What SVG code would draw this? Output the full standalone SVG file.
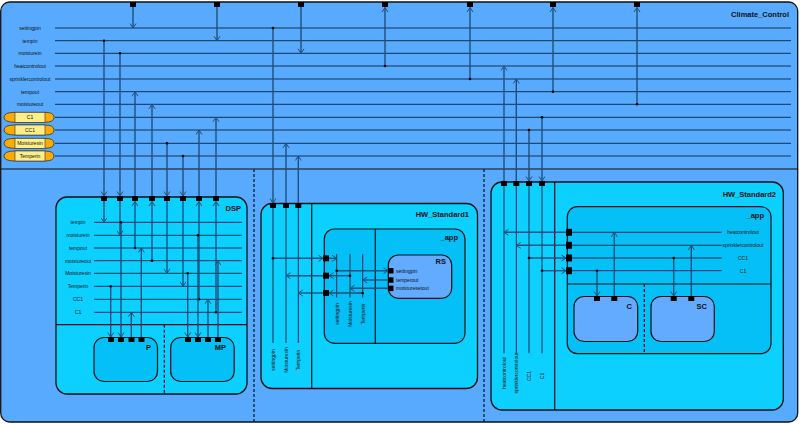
<svg xmlns="http://www.w3.org/2000/svg" width="800" height="424" viewBox="0 0 800 424">
<style>
.t{font-family:"Liberation Sans",Arial,sans-serif;font-size:5px;fill:#111}
.tm{text-anchor:middle}
.ti{font-family:"Liberation Sans",Arial,sans-serif;font-size:7.5px;font-weight:bold;fill:#111;text-anchor:end}
.ln{stroke:#14304f;stroke-width:1;fill:none}
.c{stroke:#1f4f7c;stroke-width:1.4;fill:none;marker-end:url(#a);marker-start:url(#d)}
.cn{stroke:#1f4f7c;stroke-width:1.4;fill:none;marker-end:url(#a)}
.box{fill:#0cd0ff;stroke:#111;stroke-width:1.3}
.sub{fill:#04c0f6;stroke:#111;stroke-width:1.2}
.leaf{fill:#62abff;stroke:#111;stroke-width:1.2}
.p{fill:#000}
.sep{stroke:#111;stroke-width:1.2}
.dash{stroke:#111;stroke-width:1.2;stroke-dasharray:3,2}
.loz{fill:#ffaa00;stroke:#333;stroke-width:0.8}
.lin{fill:#ffee88;stroke:#333;stroke-width:0.6}
</style>
<defs>
<marker id="a" markerWidth="8" markerHeight="8" refX="6" refY="4" orient="auto" markerUnits="userSpaceOnUse"><path d="M1.5,1 L6,4 L1.5,7" fill="none" stroke="#1f4f7c" stroke-width="1"/></marker>
<marker id="d" markerWidth="4" markerHeight="4" refX="2" refY="2" markerUnits="userSpaceOnUse"><circle cx="2" cy="2" r="1.3" fill="#000"/></marker>
<path id="lz" d="M4,5 Q4,0 15,0 H45 Q54,0 54,5 Q54,10 45,10 H15 Q4,10 4,5 Z"/>
</defs>

<g id="Climate_Control">
<rect x="0.7" y="2" width="797" height="420" rx="9" fill="#57aafd" stroke="#111" stroke-width="1.3"/>
<line x1="0.7" y1="169" x2="797.7" y2="169" class="sep"/>
<line x1="254" y1="169" x2="254" y2="422" class="dash"/>
<line x1="484" y1="169" x2="484" y2="422" class="dash"/>
<text x="789" y="17" class="ti">Climate_Control</text>
<g class="ln">
<line x1="55" y1="28" x2="791" y2="28"/>
<line x1="55" y1="40.7" x2="791" y2="40.7"/>
<line x1="55" y1="53.3" x2="791" y2="53.3"/>
<line x1="55" y1="66" x2="791" y2="66"/>
<line x1="55" y1="79" x2="791" y2="79"/>
<line x1="55" y1="91.7" x2="791" y2="91.7"/>
<line x1="55" y1="104.3" x2="791" y2="104.3"/>
<line x1="55" y1="117.3" x2="791" y2="117.3"/>
<line x1="55" y1="130" x2="791" y2="130"/>
<line x1="55" y1="143.3" x2="791" y2="143.3"/>
<line x1="55" y1="156" x2="791" y2="156"/>
</g>
<text x="30" y="29.8" class="t tm">settingpin</text>
<text x="30" y="42.5" class="t tm">tempin</text>
<text x="30" y="55.1" class="t tm">moisturein</text>
<text x="30" y="67.8" class="t tm">heatcontrolout</text>
<text x="30" y="80.8" class="t tm">sprinklercontrolout</text>
<text x="30" y="93.5" class="t tm">tempout</text>
<text x="30" y="106.1" class="t tm">moistureout</text>
<g id="lozenges">
<use href="#lz" y="112.3" class="loz"/><rect x="15" y="112.3" width="30" height="10" class="lin"/><text x="30" y="119.1" class="t tm">C1</text>
<use href="#lz" y="125" class="loz"/><rect x="15" y="125" width="30" height="10" class="lin"/><text x="30" y="131.8" class="t tm">CC1</text>
<use href="#lz" y="138.3" class="loz"/><rect x="15" y="138.3" width="30" height="10" class="lin"/><text x="30" y="145.1" class="t tm">Moisturesin</text>
<use href="#lz" y="151" class="loz"/><rect x="15" y="151" width="30" height="10" class="lin"/><text x="30" y="157.8" class="t tm">Temperin</text>
</g>
<g class="p">
<rect x="130" y="2" width="6" height="5"/><rect x="214" y="2" width="6" height="5"/><rect x="298" y="2" width="6" height="5"/><rect x="382" y="2" width="6" height="5"/><rect x="467" y="2" width="6" height="5"/><rect x="550" y="2" width="6" height="5"/><rect x="634" y="2" width="6" height="5"/>
</g>
</g>

<g id="DSP">
<rect x="56" y="197" width="191" height="197" rx="11" class="box"/>
<line x1="56" y1="324.7" x2="247" y2="324.7" class="sep"/>
<line x1="164.3" y1="324.7" x2="164.3" y2="394" class="dash"/>
<text x="241" y="210.5" class="ti">DSP</text>
<g class="ln">
<line x1="94" y1="222.3" x2="242" y2="222.3"/>
<line x1="94" y1="235.3" x2="242" y2="235.3"/>
<line x1="94" y1="248" x2="242" y2="248"/>
<line x1="94" y1="260.7" x2="242" y2="260.7"/>
<line x1="94" y1="273.3" x2="242" y2="273.3"/>
<line x1="94" y1="286.3" x2="242" y2="286.3"/>
<line x1="94" y1="299.3" x2="242" y2="299.3"/>
<line x1="94" y1="312.3" x2="242" y2="312.3"/>
</g>
<text x="78" y="224.1" class="t tm">tempin</text>
<text x="78" y="237.1" class="t tm">moisturein</text>
<text x="78" y="249.8" class="t tm">tempout</text>
<text x="78" y="262.5" class="t tm">moistureout</text>
<text x="78" y="275.1" class="t tm">Moisturesin</text>
<text x="78" y="288.1" class="t tm">Temperin</text>
<text x="78" y="301.1" class="t tm">CC1</text>
<text x="78" y="314.1" class="t tm">C1</text>
<g class="p">
<rect x="101" y="196" width="6" height="5"/><rect x="117" y="196" width="6" height="5"/><rect x="132" y="196" width="6" height="5"/><rect x="149" y="196" width="6" height="5"/><rect x="164" y="196" width="6" height="5"/><rect x="180" y="196" width="6" height="5"/><rect x="196" y="196" width="6" height="5"/><rect x="213" y="196" width="6" height="5"/>
</g>
<g id="P">
<rect x="94" y="337.5" width="63.5" height="44" rx="10" class="sub"/>
<text x="151" y="349.5" class="ti">P</text>
<g class="p"><rect x="108" y="337" width="6" height="5"/><rect x="118" y="337" width="6" height="5"/><rect x="128.5" y="337" width="6" height="5"/><rect x="138.5" y="337" width="6" height="5"/></g>
</g>
<g id="MP">
<rect x="170.7" y="337.5" width="63.5" height="44" rx="10" class="sub"/>
<text x="226" y="349.5" class="ti">MP</text>
<g class="p"><rect x="185" y="337" width="6" height="5"/><rect x="195" y="337" width="6" height="5"/><rect x="205" y="337" width="6" height="5"/><rect x="215" y="337" width="6" height="5"/></g>
</g>
</g>

<g id="HW_Standard1">
<rect x="261" y="203.5" width="216.5" height="185" rx="11" class="box"/>
<line x1="311.7" y1="203.5" x2="311.7" y2="388.5" class="sep"/>
<text x="469" y="217" class="ti">HW_Standard1</text>
<g class="ln">
<line x1="273" y1="208" x2="273" y2="343"/>
<line x1="286" y1="208" x2="286" y2="343"/>
<line x1="298.3" y1="208" x2="298.3" y2="343"/>
</g>
<text transform="rotate(-90 275 360)" x="275" y="360" class="t tm">settingpin</text>
<text transform="rotate(-90 288 360)" x="288" y="360" class="t tm">Moisturesin</text>
<text transform="rotate(-90 300.3 360)" x="300.3" y="360" class="t tm">Temperin</text>
<g class="p"><rect x="270" y="203" width="6" height="5"/><rect x="283" y="203" width="6" height="5"/><rect x="295.3" y="203" width="6" height="5"/></g>
<g id="HW1_app">
<rect x="324.3" y="229" width="140.7" height="114.3" rx="10" class="sub"/>
<line x1="375.3" y1="229" x2="375.3" y2="343.3" class="sep"/>
<text x="458" y="239.5" class="ti">_app</text>
<g class="ln">
<line x1="336.7" y1="254" x2="336.7" y2="297.5"/>
<line x1="350" y1="254" x2="350" y2="297.5"/>
<line x1="362.7" y1="254" x2="362.7" y2="297.5"/>
</g>
<text transform="rotate(-90 338.5 314)" x="338.5" y="314" class="t tm">settingpin</text>
<text transform="rotate(-90 351.8 314)" x="351.8" y="314" class="t tm">Moisturesin</text>
<text transform="rotate(-90 364.5 314)" x="364.5" y="314" class="t tm">Temperin</text>
<g class="p"><rect x="323" y="255.3" width="6" height="6"/><rect x="323" y="272.7" width="6" height="6"/><rect x="323" y="290" width="6" height="6"/></g>
<g id="RS">
<rect x="388.3" y="255" width="63.4" height="43.3" rx="10" class="leaf"/>
<text x="446" y="263.5" class="ti">RS</text>
<g class="p"><rect x="388" y="268" width="5.5" height="5.5"/><rect x="388" y="277.3" width="5.5" height="5.5"/><rect x="388" y="285.6" width="5.5" height="5.5"/></g>
<text x="396" y="272.5" class="t">settingpin</text>
<text x="396" y="281.8" class="t">temperout</text>
<text x="396" y="290.1" class="t">moisturesetout</text>
</g>
</g>
</g>

<g id="HW_Standard2">
<rect x="491" y="182" width="292.3" height="228" rx="11" class="box"/>
<line x1="554.7" y1="182" x2="554.7" y2="410" class="sep"/>
<text x="776" y="196.5" class="ti">HW_Standard2</text>
<g class="ln">
<line x1="504" y1="186" x2="504" y2="353.3"/>
<line x1="516.3" y1="186" x2="516.3" y2="353.3"/>
<line x1="529" y1="186" x2="529" y2="353.3"/>
<line x1="542" y1="186" x2="542" y2="353.3"/>
</g>
<text transform="rotate(-90 506 373)" x="506" y="373" class="t tm">heatcontrolout</text>
<text transform="rotate(-90 518.3 373)" x="518.3" y="373" class="t tm">sprinklercontrolout</text>
<text transform="rotate(-90 531 376)" x="531" y="376" class="t tm">CC1</text>
<text transform="rotate(-90 544 376)" x="544" y="376" class="t tm">C1</text>
<g class="p"><rect x="501" y="181" width="6" height="5"/><rect x="513.3" y="181" width="6" height="5"/><rect x="526" y="181" width="6" height="5"/><rect x="539" y="181" width="6" height="5"/></g>
<g id="HW2_app">
<rect x="567.3" y="206.7" width="203.7" height="147" rx="10" class="sub"/>
<line x1="567.3" y1="284" x2="771" y2="284" class="sep"/>
<line x1="644.3" y1="284" x2="644.3" y2="353.7" class="dash"/>
<text x="764" y="217.5" class="ti">_app</text>
<g class="ln">
<line x1="570" y1="232.3" x2="721.7" y2="232.3"/>
<line x1="570" y1="245.3" x2="721.7" y2="245.3"/>
<line x1="570" y1="258" x2="721.7" y2="258"/>
<line x1="570" y1="270.7" x2="721.7" y2="270.7"/>
</g>
<text x="743" y="234.1" class="t tm">heatcontrolout</text>
<text x="743" y="247.1" class="t tm">sprinklercontrolout</text>
<text x="743" y="259.8" class="t tm">CC1</text>
<text x="743" y="272.5" class="t tm">C1</text>
<g class="p"><rect x="566" y="228.8" width="6" height="7"/><rect x="566" y="241.8" width="6" height="7"/><rect x="566" y="254.5" width="6" height="7"/><rect x="566" y="267.2" width="6" height="7"/></g>
<g id="C">
<rect x="574" y="296.5" width="63.7" height="45" rx="10" class="leaf"/>
<text x="632" y="309" class="ti">C</text>
<g class="p"><rect x="594" y="296" width="6" height="5"/><rect x="611.3" y="296" width="6" height="5"/></g>
</g>
<g id="SC">
<rect x="651" y="296.5" width="63.3" height="45" rx="10" class="leaf"/>
<text x="707" y="309" class="ti">SC</text>
<g class="p"><rect x="670.7" y="296" width="6" height="5"/><rect x="688.3" y="296" width="6" height="5"/></g>
</g>
</g>
</g>

<g id="connectors">
<path class="cn" d="M133,7 V28"/>
<path class="cn" d="M217,7 V40.7"/>
<path class="cn" d="M301,7 V53.3"/>
<path class="c" d="M385,66 V7.5"/>
<path class="c" d="M470,79 V7.5"/>
<path class="c" d="M553,91.7 V7.5"/>
<path class="c" d="M637,104.3 V7.5"/>
<path class="c" d="M104,40.7 V196"/>
<path class="c" d="M120,53.3 V196"/>
<path class="cn" d="M135,196 V91.7"/>
<path class="cn" d="M152,196 V104.3"/>
<path class="c" d="M167,143.3 V196"/>
<path class="c" d="M183,156 V196"/>
<path class="cn" d="M199,196 V130"/>
<path class="cn" d="M216,196 V117.3"/>
<path class="c" d="M273,28 V203"/>
<path class="cn" d="M286,203 V143.3"/>
<path class="cn" d="M298.3,203 V156"/>
<path class="cn" d="M504,181 V66"/>
<path class="cn" d="M516.3,181 V79"/>
<path class="c" d="M529,130 V181"/>
<path class="c" d="M542,117.3 V181"/>

<path class="cn" d="M104,201 V222.3"/>
<path class="cn" d="M120,201 V235.3"/>
<path class="c" d="M135,248 V201.5"/>
<path class="c" d="M152,260.7 V201.5"/>
<path class="cn" d="M167,201 V273.3"/>
<path class="cn" d="M183,201 V286.3"/>
<path class="c" d="M199,299.3 V201.5"/>
<path class="c" d="M216,312.3 V201.5"/>
<path class="c" d="M110.7,286.3 V337"/>
<path class="c" d="M121,222.3 V337"/>
<path class="cn" d="M131.3,337 V312.3"/>
<path class="cn" d="M141.3,337 V248"/>
<path class="c" d="M187.7,273.3 V337"/>
<path class="c" d="M198,235.3 V337"/>
<path class="cn" d="M208,337 V299.3"/>
<path class="cn" d="M218,337 V260.7"/>

<path class="c" d="M273,258.3 H323"/>
<path class="cn" d="M329,258.3 H336.7"/>
<path class="cn" d="M323,275.7 H286"/>
<path class="c" d="M350,275.7 H329"/>
<path class="cn" d="M323,293 H298.3"/>
<path class="c" d="M362.7,293 H329"/>
<path class="c" d="M336.7,270.7 H388"/>
<path class="cn" d="M388,280 H362.7"/>
<path class="cn" d="M388,288.3 H350"/>

<path class="cn" d="M566,232.3 H504"/>
<path class="cn" d="M566,245.3 H516.3"/>
<path class="c" d="M529,258 H566"/>
<path class="c" d="M542,270.7 H566"/>
<path class="c" d="M597,270.7 V296"/>
<path class="cn" d="M614.3,296 V232.3"/>
<path class="c" d="M673.7,258 V296"/>
<path class="cn" d="M691.3,296 V245.3"/>
</g>
</svg>
